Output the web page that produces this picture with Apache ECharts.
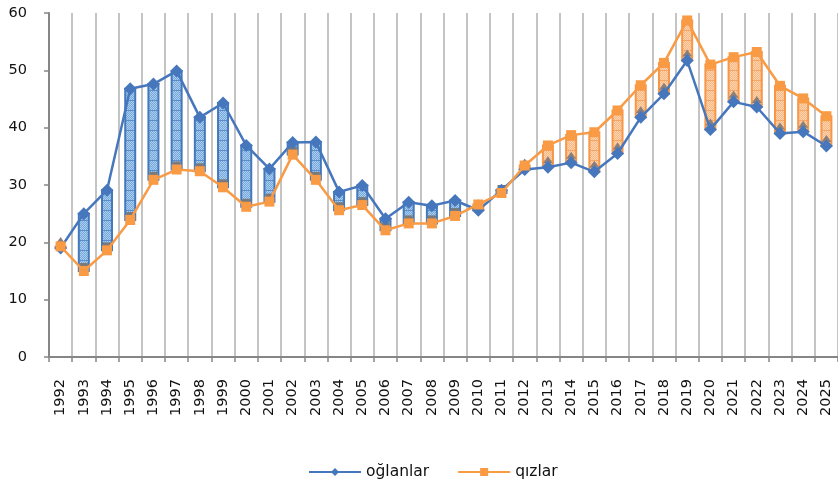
<!DOCTYPE html>
<html>
<head>
<meta charset="utf-8">
<script src="https://cdn.jsdelivr.net/npm/echarts@6/dist/echarts.min.js"></script>
<style>
html,body{margin:0;padding:0;background:#fff;}
#chart{width:838px;height:483px;}
</style>
</head>
<body>
<div id="chart"></div>
<script>
const categories = ['1992','1993','1994','1995','1996','1997','1998','1999','2000','2001','2002','2003','2004','2005','2006','2007','2008','2009','2010','2011','2012','2013','2014','2015','2016','2017','2018','2019','2020','2021','2022','2023','2024','2025'];
const boys = [19.0,25.0,29.1,46.8,47.6,49.9,41.8,44.3,36.9,32.8,37.4,37.5,28.8,29.9,24.1,27.0,26.4,27.3,25.6,29.1,32.7,33.1,33.9,32.3,35.5,41.8,45.9,51.7,39.7,44.5,43.6,39.0,39.3,36.8];
const girls = [19.3,15.0,18.6,23.9,30.9,32.7,32.4,29.6,26.2,27.1,35.3,30.9,25.6,26.5,22.1,23.3,23.3,24.6,26.6,28.6,33.4,36.9,38.7,39.2,43.0,47.4,51.3,58.7,51.0,52.3,53.2,47.3,45.1,42.0];
const seriesNames = ['oğlanlar','qızlar'];
const yTicks = {min:0, max:60, interval:10};

function makePattern(bg, dot, line) {
  const c = document.createElement('canvas');
  c.width = 10; c.height = 10;
  const ctx = c.getContext('2d');
  ctx.fillStyle = bg; ctx.fillRect(0,0,10,10);
  ctx.fillStyle = dot;
  for (let y = 0; y < 10; y++) for (let x = 0; x < 10; x++) if ((x + y) % 2 === 0) ctx.fillRect(x,y,1,1);
  ctx.fillStyle = line; ctx.fillRect(0,0,10,1);
  return {image: c, repeat: 'repeat'};
}
const bluePat = makePattern('#76a8db', '#abcdee', '#5a8dcc');
const orangePat = makePattern('#f9b680', '#fdd6b3', '#f5a566');

const barData = categories.map((c, i) => [i, boys[i], girls[i]]);

const chart = echarts.init(document.getElementById('chart'));
const FONT = 'DejaVu Sans';
chart.setOption({
  animation: false,
  textStyle: {fontFamily: FONT},
  grid: {left: 49, right: 0, top: 13, bottom: 126, containLabel: false},
  legend: {
    data: seriesNames,
    left: 303, top: 459,
    itemWidth: 52, itemHeight: 10, itemGap: 28,
    textStyle: {fontFamily: FONT, fontSize: 15.5, color: '#111'}
  },
  xAxis: {
    type: 'category', data: categories, boundaryGap: true,
    axisLine: {lineStyle: {color: '#868686', width: 2}},
    axisTick: {show: true, interval: 0, length: 5, lineStyle: {color: '#868686', width: 1.5}},
    splitLine: {show: true, interval: 0, lineStyle: {color: '#c4c4c4', width: 2}},
    axisLabel: {interval: 0, rotate: 90, fontFamily: FONT, fontSize: 14.5, color: '#111', margin: 22}
  },
  yAxis: {
    type: 'value', min: yTicks.min, max: yTicks.max, interval: yTicks.interval,
    axisLine: {show: true, lineStyle: {color: '#868686', width: 2}},
    axisTick: {show: true, length: 5, lineStyle: {color: '#868686', width: 1.5}},
    splitLine: {show: false},
    axisLabel: {fontFamily: FONT, fontSize: 14.5, color: '#111', margin: 22}
  },
  series: [
    {
      type: 'custom', z: 1, silent: true,
      data: barData,
      encode: {x: 0, y: [1, 2]},
      renderItem: function (params, api) {
        const i = api.value(0), b = api.value(1), g = api.value(2);
        const hi = Math.max(b, g), lo = Math.min(b, g);
        const pT = api.coord([i, hi]);
        const pB = api.coord([i, lo]);
        const w = 10;
        const isBlue = b > g;
        const children = [{
          type: 'rect',
          shape: {x: pT[0] - w/2, y: pT[1], width: w, height: Math.max(pB[1] - pT[1], 1)},
          style: {fill: isBlue ? bluePat : orangePat, stroke: isBlue ? '#4478ba' : '#f79646', lineWidth: 2}
        }];
        if (isBlue) {
          children.push({type: 'rect', shape: {x: pB[0] - w/2 + 1, y: pB[1] - 8, width: w - 2, height: 4}, style: {fill: '#7a7a7a'}});
        } else {
          children.push({type: 'polygon', shape: {points: [[pB[0], pB[1] - 11], [pB[0] - 5, pB[1] - 4], [pB[0] + 5, pB[1] - 4]]}, style: {fill: '#8a7f7a'}});
        }
        return {type: 'group', children: children};
      }
    },
    {
      name: seriesNames[0], type: 'line', z: 3, data: boys,
      symbol: 'diamond', symbolSize: 13,
      lineStyle: {color: '#4677bd', width: 2.5},
      itemStyle: {color: '#4677bd'}
    },
    {
      name: seriesNames[1], type: 'line', z: 4, data: girls,
      symbol: 'rect', symbolSize: 10,
      lineStyle: {color: '#f99a45', width: 2.5},
      itemStyle: {color: '#f99a45'}
    }
  ]
});
</script>
</body>
</html>
